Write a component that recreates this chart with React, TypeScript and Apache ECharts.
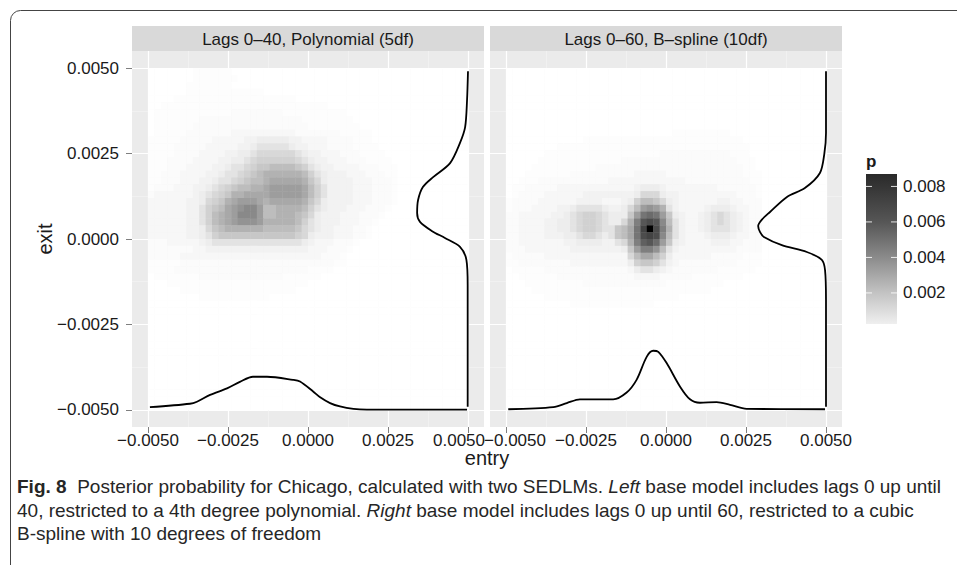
import React, { useEffect, useRef } from 'react';
import * as echarts from 'echarts';

// ---------- axes / ticks ----------
const MAJOR_TICKS = [-0.005, -0.0025, 0, 0.0025, 0.005];
const MINOR_TICKS = [-0.00375, -0.00125, 0.00125, 0.00375];
const AXIS_MIN = -0.0055;
const AXIS_MAX = 0.0055;
const PANEL_TITLES = ['Lags 0–40, Polynomial (5df)', 'Lags 0–60, B–spline (10df)'];
const X_TITLE = 'entry';
const Y_TITLE = 'exit';

// ---------- heat map grid (50 x 50 cells on [-0.005, 0.005]) ----------
const GRID_N = 50;
const GRID_MIN = -0.005;
const GRID_MAX = 0.005;
const CELL = 0.0002;
// each character of a row is one cell; this table gives its posterior probability p
const LEVEL_CHARS = '0123456789abcdefghijklmnopq';
const LEVEL_VALUES = [
  0, 0.00005, 0.00012, 0.00022, 0.00036, 0.00052, 0.0008, 0.0011, 0.0014, 0.0018,
  0.0022, 0.0026, 0.003, 0.0034, 0.0038, 0.0042, 0.0046, 0.005, 0.0054, 0.0058,
  0.0062, 0.0066, 0.007, 0.0074, 0.0078, 0.0082, 0.0088,
];

// rows from top (exit = 0.0049) downwards, columns from entry = -0.0049 rightwards
const LEFT_HEAT_ROWS = [
  '0000000111111',
  '00000001111111',
  '0000001111111',
  '000000111111111111',
  '00001111111111111111111',
  '0011111111111111111111111111',
  '0' + '111111111111' + '22222222' + '1111111111',
  '0' + '1111111' + '2222222222222222' + '11111111',
  '0' + '111111' + '222222222222222222' + '11111111',
  '0' + '11111' + '2222222' + '3333333333' + '2222222' + '11111',
  '11111222223333344555554433332222111',
  '111122222333334456666654433322221111',
  '1111222233334455677777765443332221111',
  '11122223333445567888888765443332221111',
  '1112223333445667899aaaa9865443333222111',
  '11222333344566789abbbbbba86544433322211',
  '1122233344566789aabcccccb97544443332221',
  '12223334456789aabbcdddddca8644443332221',
  '2333333456789bbccccdddddca8644443332221',
  '333333445789bcdddcbcccccb97544443332221',
  '33333344689acdeffdaabbbba8654443332221',
  '3333334468abcdfffdaabbba9754443332221',
  '3333334468abcdeeedbbbbba865444333221',
  '33333344579abbbbbbaaaaa976544333221',
  '33333344568999999999999875444333221',
  '222333334566666666666666543332221',
  '22222223344444444444444443332221',
  '22222' + '3333333333' + '3333333333' + '33' + '222' + '1',
  '11111' + '2222222222' + '2222222222' + '2222' + '11',
  '1111' + '2222222222' + '2222222222' + '2' + '1111',
  '01111111' + '2222222222' + '222' + '111111',
  '000' + '1111111111' + '1111111111' + '11',
  '00000' + '1111111111' + '11111111',
  '00000000' + '1111111111' + '1',
];

const RIGHT_HEAT_ROWS = [
  '', '', '', '', '', '', '', '', '',
  '0000000000' + '0000000000' + '0000001111' + '11111',
  '0000000000' + '0011111111' + '1111111111' + '1111111',
  '0000000011' + '1111111111' + '1111111111' + '11111111',
  '0000001111' + '1111111111' + '1111222222' + '2222211100',
  '0000011111' + '1111111122' + '2222222222' + '2222221110',
  '0000111111' + '1111222222' + '2222222222' + '2222222110',
  '0001111111' + '2222222222' + '3333322222' + '2222222111',
  '0011122222' + '2222223333' + '3333333322' + '2222222211',
  '0112222233' + '3333333333' + '4555433333' + '3332222221',
  '0122223333' + '3344444444' + '5777544333' + '3333332221',
  '1222233333' + '3444433345' + '8aa9754333' + '3334433222',
  '1222333344' + '5666654457' + 'adedb64333' + '3455543322',
  '2233333445' + '6788765559' + 'dhihd95433' + '4567654322',
  '2233334455' + '678876557b' + 'gklkfa6433' + '4567654322',
  '2233334455' + '67887669ac' + 'hmqlgb6433' + '4566654322',
  '2233334445' + '56776569ac' + 'hlmlfa6433' + '3455543322',
  '2233333334' + '455554467b' + 'gjkid95433' + '3344433222',
  '2223333333' + '4444444459' + 'dggea64333' + '3333332222',
  '1222223333' + '3333333337' + 'acca853333' + '3322222111',
  '1122222222' + '3333333335' + '8998643222' + '2222221111',
  '0111112222' + '2222222223' + '5665432222' + '2221111110',
  '0011111122' + '2222222222' + '3333222221' + '1111111000',
  '0001111111' + '1122222222' + '2222211111' + '111100',
  '0000111111' + '1111111111' + '1111111111' + '11',
  '0000001111' + '1111111111' + '1111111',
  '00000000001111111111111',
];

// ---------- marginal density curves (entry along bottom, exit along right side) ----------
const LEFT_BOTTOM_X = [-0.00494, -0.00369, -0.00347, -0.00306, -0.00253, -0.00213, -0.00172, -0.00128, -0.00047, -0.00025, 0.00016, 0.00038, 0.00069, 0.001, 0.00142, 0.00184, 0.00497];
const LEFT_BOTTOM_Y = [-0.00492, -0.00482, -0.00476, -0.00456, -0.00437, -0.00418, -0.00403, -0.00403, -0.00412, -0.00417, -0.00446, -0.00463, -0.0048, -0.0049, -0.00497, -0.00499, -0.00499];
const LEFT_SIDE_X = [0.005, 0.00497, 0.00491, 0.00475, 0.00444, 0.00391, 0.00359, 0.00344, 0.00341, 0.0035, 0.00388, 0.00428, 0.00475, 0.00495, 0.00499, 0.00499];
const LEFT_SIDE_Y = [0.00491, 0.00406, 0.00327, 0.00281, 0.00222, 0.00181, 0.00152, 0.00114, 0.00076, 0.0005, 0.00023, 0.00003, -0.00023, -0.00061, -0.00135, -0.00491];
const RIGHT_BOTTOM_X = [-0.00493, -0.00352, -0.0031, -0.00269, -0.00227, -0.00165, -0.00123, -0.00092, -0.0006, -0.0004, -0.00024, 0.00002, 0.00044, 0.00075, 0.00106, 0.00158, 0.002, 0.00252, 0.00497];
const RIGHT_BOTTOM_Y = [-0.00498, -0.00492, -0.0048, -0.00469, -0.00469, -0.00469, -0.00449, -0.00412, -0.00344, -0.00327, -0.0033, -0.00363, -0.00432, -0.00469, -0.00479, -0.00477, -0.00485, -0.00497, -0.00498];
const RIGHT_SIDE_X = [0.005, 0.005, 0.00495, 0.00481, 0.00434, 0.00378, 0.00325, 0.00299, 0.00288, 0.00294, 0.00306, 0.00362, 0.0044, 0.00487, 0.00497, 0.005, 0.005];
const RIGHT_SIDE_Y = [0.00491, 0.0031, 0.00251, 0.00193, 0.00149, 0.00123, 0.00079, 0.00056, 0.00038, 0.0002, 0.00006, -0.00018, -0.00038, -0.00061, -0.00091, -0.00178, -0.00491];

// ---------- colour scale / legend ----------
const P_MIN = 0;
const P_MAX = 0.0088;
const P_COLORS = ['#ffffff', '#d8d8d8', '#bdbdbd', '#a0a0a0', '#848484', '#686868', '#4c4c4c', '#333333', '#000000'];
const LEGEND_TITLE = 'p';
const LEGEND_MIN = 0.00025;
const LEGEND_MAX = 0.0087;
const LEGEND_TICKS = [0.002, 0.004, 0.006, 0.008];
const LEGEND_STOPS = [0.0087, 0.008, 0.006, 0.004, 0.002, 0.00025];
const LEGEND_COLORS = ['#2a2a2a', '#353535', '#565656', '#8b8b8b', '#c3c3c3', '#efefef'];

const CAPTION =
  '{b|Fig. 8}  Posterior probability for Chicago, calculated with two SEDLMs. {i|Left} base model includes lags 0 up until\n' +
  '40, restricted to a 4th degree polynomial. {i|Right} base model includes lags 0 up until 60, restricted to a cubic\n' +
  'B-spline with 10 degrees of freedom';

// ---------- helpers ----------
const FONT = "'Liberation Sans', Arial, Helvetica, sans-serif";
const TXT = '#1a1a1a';
const TICK = '#7f7f7f';

function heatData(rows: string[]) {
  const out: number[][] = [];
  for (let r = 0; r < GRID_N; r++) {
    const row = rows[r] || '';
    for (let c = 0; c < GRID_N; c++) {
      const ch = row[c] || '0';
      const idx = LEVEL_CHARS.indexOf(ch);
      out.push([GRID_MIN + CELL * (c + 0.5), GRID_MAX - CELL * (r + 0.5), LEVEL_VALUES[idx < 0 ? 0 : idx]]);
    }
  }
  return out;
}
const zip = (xs: number[], ys: number[]) => xs.map((x, i) => [x, ys[i]]);
const fmt = (v: number) => (Math.abs(v) < 1e-12 ? '0.0000' : (v < 0 ? '\u2212' : '') + Math.abs(v).toFixed(4));

export default function App() {
  const ref = useRef<HTMLDivElement>(null);
  useEffect(() => {
    if (!ref.current) return;
    const chart = echarts.init(ref.current, null, { renderer: 'svg' });

    const grids = [
      { left: 132, top: 51, width: 352, height: 376 },
      { left: 490, top: 51, width: 352, height: 376 },
    ];

    const majorX = (g: number) => ({
      gridIndex: g,
      type: 'value',
      position: 'bottom',
      min: AXIS_MIN,
      max: AXIS_MAX,
      axisLine: { show: false, onZero: false },
      axisTick: { show: true, length: 6, customValues: MAJOR_TICKS, lineStyle: { color: TICK, width: 1 } },
      axisLabel: {
        show: true,
        customValues: MAJOR_TICKS,
        fontSize: 17,
        fontFamily: FONT,
        color: TXT,
        margin: 5,
        formatter: (v: number) => {
          if (g === 0 && Math.abs(v - 0.005) < 1e-9) return '{r|' + fmt(v) + '}';
          if (g === 1 && Math.abs(v + 0.005) < 1e-9) return '{l|' + fmt(v) + '}';
          return fmt(v);
        },
        rich: {
          r: { padding: [0, 18, 0, 0], fontSize: 17, fontFamily: FONT, color: TXT },
          l: { padding: [0, 0, 0, 18], fontSize: 17, fontFamily: FONT, color: TXT },
        },
      },
      splitLine: { show: true, lineStyle: { color: '#ffffff', width: 1.2 } },
    });
    const majorY = (g: number) => ({
      gridIndex: g,
      type: 'value',
      position: 'left',
      min: AXIS_MIN,
      max: AXIS_MAX,
      axisLine: { show: false, onZero: false },
      axisTick: { show: g === 0, length: 6, customValues: MAJOR_TICKS, lineStyle: { color: TICK, width: 1 } },
      axisLabel: {
        show: g === 0,
        customValues: MAJOR_TICKS,
        fontSize: 17,
        fontFamily: FONT,
        color: TXT,
        margin: 13,
        formatter: fmt,
      },
      splitLine: { show: true, lineStyle: { color: '#ffffff', width: 1.2 } },
    });
    const minorAxis = (g: number, pos: string) => ({
      gridIndex: g,
      type: 'value',
      position: pos,
      min: AXIS_MIN,
      max: AXIS_MAX,
      axisLine: { show: false, onZero: false },
      axisTick: { show: false, customValues: MINOR_TICKS },
      axisLabel: { show: false, customValues: MINOR_TICKS },
      splitLine: { show: true, lineStyle: { color: '#f4f4f4', width: 0.7 } },
    });

    const heatSeries = (g: number, rows: string[]) => ({
      type: 'custom',
      xAxisIndex: g,
      yAxisIndex: g,
      data: heatData(rows),
      encode: { x: 0, y: 1 },
      silent: true,
      z: 2,
      renderItem: (params: any, api: any) => {
        const x = api.value(0);
        const y = api.value(1);
        const p0 = api.coord([x - CELL / 2, y + CELL / 2]);
        const p1 = api.coord([x + CELL / 2, y - CELL / 2]);
        return {
          type: 'rect',
          shape: { x: p0[0], y: p0[1], width: p1[0] - p0[0] + 0.4, height: p1[1] - p0[1] + 0.4 },
          style: { fill: api.visual('color'), stroke: null },
        };
      },
    });
    const lineSeries = (g: number, data: number[][]) => ({
      type: 'line',
      xAxisIndex: g,
      yAxisIndex: g,
      data,
      symbol: 'none',
      showSymbol: false,
      smooth: 0.3,
      silent: true,
      z: 5,
      lineStyle: { color: '#000000', width: 1.8 },
    });

    const legendY = (v: number) => 174 + ((LEGEND_MAX - v) / (LEGEND_MAX - LEGEND_MIN)) * 150;
    const legendStops = LEGEND_STOPS.map((v, i) => ({
      offset: (LEGEND_MAX - v) / (LEGEND_MAX - LEGEND_MIN),
      color: LEGEND_COLORS[i],
    }));

    const graphics: any[] = [
      {
        type: 'rect',
        shape: { x: 10.5, y: 10.5, width: 1400, height: 1400, r: 10 },
        style: { fill: 'none', stroke: '#444444', lineWidth: 1 },
        silent: true,
      },
    ];
    grids.forEach((g, i) => {
      graphics.push({
        type: 'rect',
        shape: { x: g.left, y: 26, width: g.width, height: 25 },
        style: { fill: '#d9d9d9' },
        silent: true,
      });
      graphics.push({
        type: 'text',
        x: g.left + g.width / 2,
        y: 39,
        style: {
          text: PANEL_TITLES[i],
          fill: TXT,
          font: `17px ${FONT}`,
          align: 'center',
          verticalAlign: 'middle',
          textAlign: 'center',
          textVerticalAlign: 'middle',
        },
        silent: true,
      });
    });
    graphics.push({
      type: 'text',
      x: 487,
      y: 458,
      style: { text: X_TITLE, fill: TXT, font: `20px ${FONT}`, align: 'center', verticalAlign: 'middle', textAlign: 'center', textVerticalAlign: 'middle' },
      silent: true,
    });
    graphics.push({
      type: 'text',
      x: 45,
      y: 239,
      rotation: Math.PI / 2,
      style: { text: Y_TITLE, fill: TXT, font: `20px ${FONT}`, align: 'center', verticalAlign: 'middle', textAlign: 'center', textVerticalAlign: 'middle' },
      silent: true,
    });
    // legend
    graphics.push({
      type: 'text',
      x: 866,
      y: 161,
      style: { text: LEGEND_TITLE, fill: TXT, font: `bold 17px ${FONT}`, align: 'left', verticalAlign: 'middle', textAlign: 'left', textVerticalAlign: 'middle' },
      silent: true,
    });
    graphics.push({
      type: 'rect',
      shape: { x: 866, y: 174, width: 31, height: 150 },
      style: { fill: new echarts.graphic.LinearGradient(0, 0, 0, 1, legendStops) },
      silent: true,
    });
    LEGEND_TICKS.forEach((v) => {
      const y = legendY(v);
      graphics.push({ type: 'line', shape: { x1: 866, y1: y, x2: 872, y2: y }, style: { stroke: '#ffffff', lineWidth: 1, opacity: 0.85 }, silent: true });
      graphics.push({ type: 'line', shape: { x1: 891, y1: y, x2: 897, y2: y }, style: { stroke: '#ffffff', lineWidth: 1, opacity: 0.85 }, silent: true });
      graphics.push({
        type: 'text',
        x: 903,
        y,
        style: { text: v.toFixed(3), fill: TXT, font: `17px ${FONT}`, align: 'left', verticalAlign: 'middle', textAlign: 'left', textVerticalAlign: 'middle' },
        silent: true,
      });
    });
    // caption
    graphics.push({
      type: 'text',
      x: 17,
      y: 475,
      style: {
        text: CAPTION,
        fill: '#262626',
        font: `19px ${FONT}`,
        lineHeight: 23.5,
        align: 'left',
        verticalAlign: 'top',
        textAlign: 'left',
        textVerticalAlign: 'top',
        rich: {
          b: { fontWeight: 'bold', fontSize: 19, fontFamily: FONT, fill: '#262626', lineHeight: 23.5 },
          i: { fontStyle: 'italic', fontSize: 19, fontFamily: FONT, fill: '#262626', lineHeight: 23.5 },
        },
      },
      silent: true,
    });

    chart.setOption({
      animation: false,
      backgroundColor: '#ffffff',
      grid: grids.map((g) => ({ ...g, show: true, backgroundColor: '#ebebeb', borderWidth: 0, containLabel: false })),
      xAxis: [majorX(0), majorX(1), minorAxis(0, 'bottom'), minorAxis(1, 'bottom')],
      yAxis: [majorY(0), majorY(1), minorAxis(0, 'left'), minorAxis(1, 'left')],
      visualMap: {
        show: false,
        type: 'continuous',
        min: P_MIN,
        max: P_MAX,
        dimension: 2,
        seriesIndex: [0, 1],
        inRange: { color: P_COLORS },
      },
      series: [
        heatSeries(0, LEFT_HEAT_ROWS),
        heatSeries(1, RIGHT_HEAT_ROWS),
        lineSeries(0, zip(LEFT_BOTTOM_X, LEFT_BOTTOM_Y)),
        lineSeries(0, zip(LEFT_SIDE_X, LEFT_SIDE_Y)),
        lineSeries(1, zip(RIGHT_BOTTOM_X, RIGHT_BOTTOM_Y)),
        lineSeries(1, zip(RIGHT_SIDE_X, RIGHT_SIDE_Y)),
      ],
      graphic: graphics,
    });
    return () => chart.dispose();
  }, []);

  return <div ref={ref} style={{ position: 'fixed', left: 0, top: 0, width: 957, height: 565, background: '#ffffff' }} />;
}
